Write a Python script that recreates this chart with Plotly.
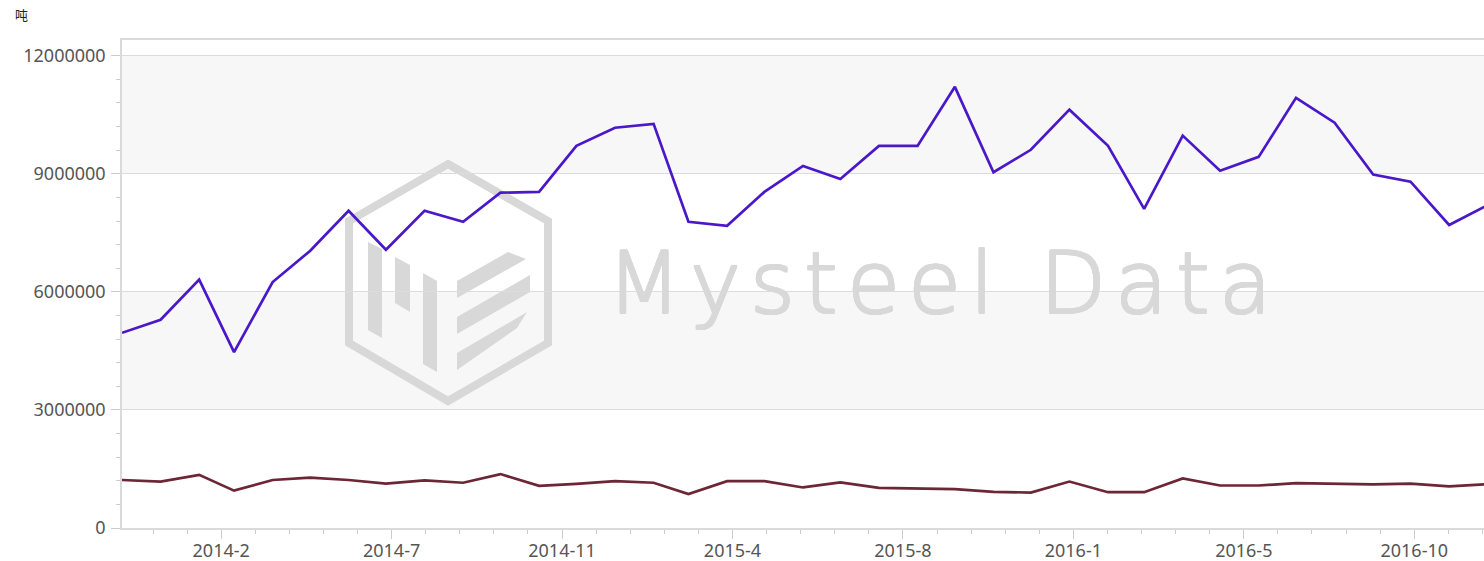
import plotly.graph_objects as go

# monthly dates (month start)
months = ["2013-12-01", "2014-01-01", "2014-02-01", "2014-03-01", "2014-04-01", "2014-05-01",
          "2014-06-01", "2014-07-01", "2014-08-01", "2014-09-01", "2014-10-01", "2014-11-01",
          "2014-12-01", "2015-01-01", "2015-02-01", "2015-03-01", "2015-04-01", "2015-05-01",
          "2015-06-01", "2015-07-01", "2015-08-01", "2015-09-01", "2015-10-01", "2015-11-01",
          "2015-12-01", "2016-01-01", "2016-02-01", "2016-03-01", "2016-04-01", "2016-05-01",
          "2016-06-01", "2016-07-01", "2016-08-01", "2016-09-01", "2016-10-01", "2016-11-01",
          "2016-12-01"]

# upper series (tonnes)
series_a = [4960000, 5290000, 6310000, 4470000, 6250000, 7040000,
            8060000, 7070000, 8060000, 7780000, 8520000, 8540000,
            9710000, 10170000, 10270000, 7780000, 7680000, 8540000,
            9200000, 8870000, 9710000, 9710000, 11210000, 9040000,
            9610000, 10630000, 9710000, 8110000, 9970000, 9080000,
            9430000, 10930000, 10300000, 8980000, 8800000, 7700000,
            8190000]

# lower series (tonnes)
series_b = [1220000, 1180000, 1350000, 950000, 1220000, 1280000,
            1220000, 1130000, 1210000, 1150000, 1370000, 1070000,
            1120000, 1190000, 1150000, 860000, 1190000, 1190000,
            1030000, 1160000, 1020000, 1000000, 990000, 920000,
            900000, 1180000, 910000, 910000, 1260000, 1080000,
            1080000, 1140000, 1130000, 1110000, 1130000, 1060000,
            1110000]

unit_label = "吨"
watermark = "Mysteel Data"

W, H = 1484, 561
L, R, T, B = 122, 0, 40, 33
PW, PH = W - L - R, H - T - B


def px(x, y):
    # pixel position -> paper coords
    return (x - L) / PW, (H - B - y) / PH


def path(points):
    s = ""
    for i, (x, y) in enumerate(points):
        u, v = px(x, y)
        s += ("M" if i == 0 else "L") + f"{u:.5f},{v:.5f} "
    return s + "Z"


fig = go.Figure()
fig.add_trace(go.Scatter(x=months, y=series_a, mode="lines",
                         line=dict(color="#4a18c9", width=2.7)))
fig.add_trace(go.Scatter(x=months, y=series_b, mode="lines",
                         line=dict(color="#6d2636", width=2.7)))

# alternating bands
for y0, y1 in [(3e6, 6e6), (9e6, 12e6)]:
    fig.add_shape(type="rect", xref="paper", yref="y", x0=0, x1=1, y0=y0, y1=y1,
                  fillcolor="#f7f7f7", line_width=0, layer="below")

# watermark logo
wm = "#d8d8d8"
hexagon = [(448, 164), (548, 221), (548, 343), (448, 401), (349, 343), (349, 221)]
fig.add_shape(type="path", xref="paper", yref="paper", path=path(hexagon),
              line=dict(color=wm, width=8), fillcolor="rgba(0,0,0,0)", layer="below")
pieces = [
    [(368, 242), (382, 249), (382, 338), (368, 330)],
    [(395, 257), (410, 265), (410, 312), (395, 303)],
    [(423, 273), (437, 281), (437, 372), (423, 364)],
    [(457, 281), (508, 252), (526, 259), (457, 298)],
    [(457, 317), (530, 275), (530, 292), (457, 334)],
    [(457, 353), (527, 312), (517, 328), (457, 370)],
]
for p in pieces:
    fig.add_shape(type="path", xref="paper", yref="paper", path=path(p),
                  line_width=0, fillcolor=wm, layer="below")

# watermark text, letter by letter (wide spacing of the original)
wm_size = 86
widths = {"M": .863, "y": .592, "s": .521, "t": .392, "e": .615, "l": .278,
          " ": .318, "D": .770, "a": .613}
natural = sum(widths[c] for c in watermark) * wm_size
gap = (665 - natural) / (len(watermark) - 1)
thicken = ", ".join(f"{dx}px {dy}px 0 {wm}" for dx, dy in
                    [(1, 0), (-1, 0), (0, 1), (0, -1), (1, 1), (-1, -1), (1, -1), (-1, 1)])
xpos = 607
for ch in watermark:
    w = widths[ch] * wm_size
    if ch != " ":
        u, v = px(xpos + w / 2, 313)
        fig.add_annotation(text=ch, xref="paper", yref="paper", x=u, y=v,
                           showarrow=False, xanchor="center", yanchor="bottom",
                           yshift=-22,
                           font=dict(family="DejaVu Sans", size=wm_size, color=wm,
                                     weight=200, shadow=thicken))
    xpos += w + gap

u, v = px(21, 15)
fig.add_annotation(text=unit_label, xref="paper", yref="paper", x=u, y=v,
                   showarrow=False, xanchor="center", yanchor="middle",
                   font=dict(family="Noto Sans CJK SC", size=13, color="#222222"))

day = 86400000
tick_step = 136.9 * day

fig.update_layout(
    width=W, height=H,
    margin=dict(l=L, r=R, t=T, b=B),
    paper_bgcolor="white", plot_bgcolor="white",
    showlegend=False,
    font=dict(family="Noto Sans", size=18, color="#555555"),
    xaxis=dict(
        type="date", automargin=False,
        range=["2013-12-01", "2016-11-29"],
        tickmode="linear", tick0="2014-02-18 16:00", dtick=tick_step,
        tickformat="%Y-%-m", ticklabelstandoff=-3,
        ticks="outside", ticklen=9, tickcolor="#cccccc", tickwidth=1,
        minor=dict(tick0="2014-02-18 16:00", dtick=tick_step / 5, ticks="outside",
                   ticklen=4, tickcolor="#cccccc", showgrid=False),
        showgrid=False, showline=True, linecolor="#dadada", linewidth=1.5,
        mirror=True, zeroline=False,
    ),
    yaxis=dict(
        automargin=False,
        range=[0, 12.4e6], tickmode="linear", tick0=0, dtick=3e6,
        tickformat="d", ticklabelstandoff=2,
        ticks="outside", ticklen=9, tickcolor="#cccccc", tickwidth=1,
        minor=dict(dtick=6e5, ticks="outside", ticklen=4, tickcolor="#cccccc",
                   showgrid=False),
        showgrid=True, gridcolor="#dcdcdc", gridwidth=1,
        showline=True, linecolor="#dadada", linewidth=1.5, zeroline=False,
    ),
)

fig.write_html("out.html", config={"displayModeBar": False},
               post_script="document.body.style.margin='0';"
                           "document.documentElement.style.overflow='hidden';")
